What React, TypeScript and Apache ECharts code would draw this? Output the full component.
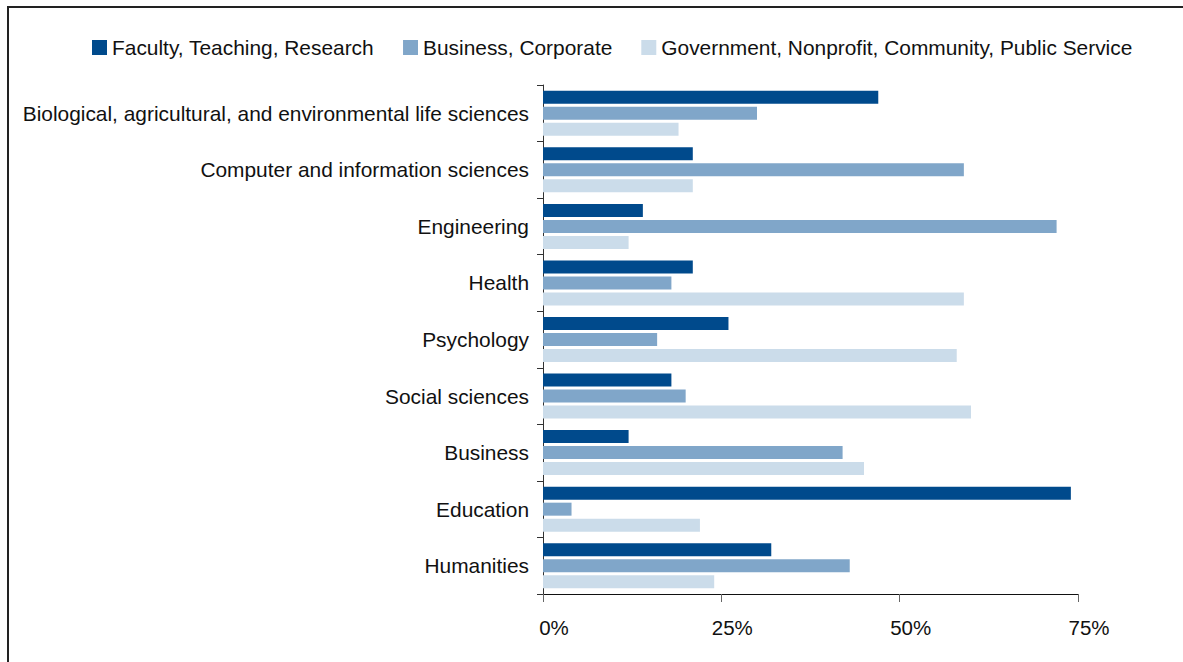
import React, { useEffect, useRef } from "react";
import * as echarts from "echarts";

const categories = [
  "Biological, agricultural, and environmental life sciences",
  "Computer and information sciences",
  "Engineering",
  "Health",
  "Psychology",
  "Social sciences",
  "Business",
  "Education",
  "Humanities",
];

const seriesNames = [
  "Faculty, Teaching, Research",
  "Business, Corporate",
  "Government, Nonprofit, Community, Public Service",
];

const faculty = [47, 21, 14, 21, 26, 18, 12, 74, 32];
const business = [30, 59, 72, 18, 16, 20, 42, 4, 43];
const government = [19, 21, 12, 59, 58, 60, 45, 22, 24];

const xTicks = [0, 25, 50, 75];

const colors = ["#004A8C", "#80A6C9", "#CBDCEA"];

export default function App() {
  const ref = useRef<HTMLDivElement>(null);

  useEffect(() => {
    if (!ref.current) return;
    const chart = echarts.init(ref.current, undefined, { renderer: "svg" });
    const font = "'Liberation Sans', Arial, Helvetica, sans-serif";
    const values = [faculty, business, government];
    chart.setOption({
      animation: false,
      textStyle: { fontFamily: font },
      color: colors,
      graphic: [
        {
          type: "rect",
          shape: { x: 8, y: 7, width: 1300, height: 800 },
          style: { fill: "none", stroke: "#222", lineWidth: 2 },
          silent: true,
        },
      ],
      legend: {
        left: 92,
        top: 37,
        padding: 0,
        itemWidth: 15,
        itemHeight: 15,
        itemGap: 29,
        icon: "rect",
        textStyle: { fontSize: 20.9, color: "#111", fontFamily: font },
        data: seriesNames,
      },
      grid: { left: 543, right: 105, top: 85, bottom: 68, containLabel: false },
      xAxis: {
        type: "value",
        min: xTicks[0],
        max: xTicks[xTicks.length - 1],
        interval: 25,
        splitLine: { show: false },
        axisLine: { show: true, lineStyle: { color: "#111", width: 1 } },
        axisTick: { show: true, length: 8, lineStyle: { color: "#666" } },
        axisLabel: {
          formatter: "{value}%",
          fontSize: 20.5,
          color: "#111",
          margin: 23,
          padding: [0, 0, 0, 22],
          fontFamily: font,
        },
      },
      yAxis: {
        type: "category",
        inverse: true,
        data: categories,
        axisLine: { show: true, lineStyle: { color: "#333", width: 1 } },
        axisTick: { show: true, length: 6, alignWithLabel: false, lineStyle: { color: "#333" } },
        axisLabel: { fontSize: 20.9, color: "#111", margin: 14, fontFamily: font },
      },
      series: seriesNames.map((name, i) => ({
        name,
        type: "bar",
        data: values[i],
        barWidth: 13,
        barGap: "23%",
        itemStyle: { color: colors[i] },
      })),
    });
    return () => chart.dispose();
  }, []);

  return (
    <div
      ref={ref}
      style={{ position: "absolute", left: 0, top: 0, width: 1183, height: 662, background: "#fff" }}
    />
  );
}
